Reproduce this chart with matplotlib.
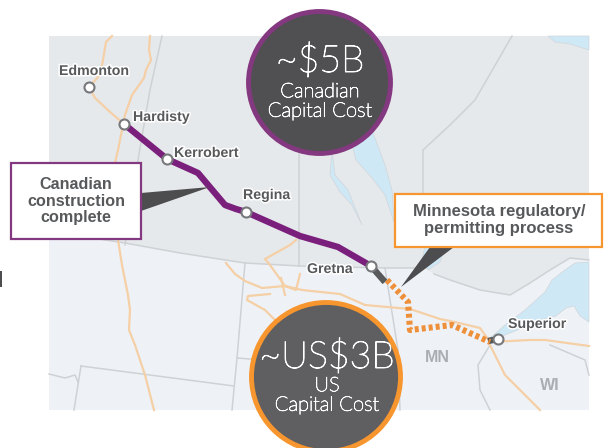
import matplotlib
matplotlib.use('Agg')
import matplotlib.pyplot as plt
import matplotlib.patheffects as pe
from matplotlib.patches import Circle, Polygon, Rectangle

# map shapes in pixels
canada = [(49, 36), (589, 36), (589, 260), (570, 258), (550, 270), (530, 283), (510, 295), (480, 290), (450, 280),
          (434, 274), (425, 268), (385, 268), (300, 266), (245, 263), (180, 253), (125, 243), (80, 236), (49, 232)]
lake_superior = [(489, 339), (505, 325), (525, 310), (545, 292), (552, 280), (565, 270), (575, 263), (589, 262),
                 (589, 322), (580, 316), (574, 306), (566, 308), (556, 316), (540, 320), (525, 327), (505, 335)]
lake_winnipeg = [(372, 130), (385, 165), (392, 190), (394, 222), (385, 195), (372, 178), (356, 160), (352, 145)]
lake_manitoba = [(332, 150), (335, 175), (348, 190), (358, 215), (362, 225), (352, 205), (340, 192), (330, 175)]
lake_woods = [(425, 247), (445, 247), (440, 262), (428, 270), (422, 260)]
hudson = [(548, 36), (589, 36), (589, 50), (570, 44), (555, 42)]

borders = [
    [(49, 232), (80, 236), (125, 243), (180, 253), (245, 263), (300, 266), (385, 268), (425, 268)],
    [(162, 36), (150, 90), (138, 160), (125, 245)],
    [(299, 150), (299, 266)],
    [(512, 36), (475, 100), (450, 125), (423, 150), (423, 194)],
    [(245, 263), (237, 358), (232, 410)],
    [(237, 358), (262, 360)],
    [(81, 366), (234, 386)],
    [(81, 366), (74, 410)],
    [(49, 374), (65, 378), (75, 375), (78, 382)],
    [(385, 268), (390, 300), (398, 350), (400, 410)],
    [(434, 274), (450, 280), (480, 290), (510, 295), (530, 283), (550, 270), (570, 258), (589, 260)],
    [(490, 345), (478, 365), (480, 390), (490, 410)],
    [(550, 345), (585, 360), (589, 375)],
]

pipes = [
    [(150, 36), (149, 50), (151, 60), (146, 70), (144, 78), (132, 95), (125, 115), (118, 150), (115, 163),
     (118, 240), (122, 265), (128, 295), (130, 310), (129, 330), (135, 345), (145, 375), (154, 410)],
    [(112, 36), (106, 42), (103, 60), (100, 75), (89, 87), (95, 98), (110, 112), (124, 124)],
    [(296, 240), (290, 245), (265, 259), (270, 265), (285, 286), (262, 288), (245, 281), (235, 274), (226, 263)],
    [(281, 278), (285, 295)],
    [(300, 274), (296, 290), (285, 286), (302, 290), (340, 294), (365, 305), (410, 309), (440, 319), (455, 322),
     (480, 328), (490, 342)],
    [(490, 342), (530, 340), (545, 340), (589, 346)],
    [(490, 345), (505, 375), (530, 400), (540, 410)],
    [(270, 294), (248, 296), (247, 300), (265, 310), (275, 320)],
]

# pipeline route
purple_route = [(124, 124), (167, 159), (198, 173), (225, 205), (236, 209), (246, 212), (300, 236), (338, 247), (371, 266)]
gray_route = [(371, 266), (385, 282)]
dotted_route = [(387, 280), (408, 302), (410, 330), (452, 325), (490, 342)]
gray_route2 = [(488, 341), (498, 339)]

cities = ['Edmonton', 'Hardisty', 'Kerrobert', 'Regina', 'Gretna', 'Superior']
city_x = [89, 124, 167, 246, 371, 498]
city_y = [87, 124, 159, 212, 266, 339]
label_x = [59, 133, 174, 243, 307, 508]
label_y = [71, 117, 153, 195, 269, 324]

purple = '#84387f'
orange = '#f7952e'
text_grey = '#58595b'

fig = plt.figure(figsize=(6.04, 4.48), dpi=100)
ax = fig.add_axes([0, 0, 1, 1])
ax.set_xlim(0, 604)
ax.set_ylim(448, 0)
ax.axis('off')

ax.add_patch(Rectangle((49, 36), 540, 374, fc='#eef2f6', ec='none', zorder=1))
ax.add_patch(Polygon(canada, fc='#e6e9ec', ec='none', zorder=1))
for shape in [lake_superior, lake_winnipeg, lake_manitoba, lake_woods, hudson]:
    ax.add_patch(Polygon(shape, fc='#cfe8f6', ec='#d0d6da', lw=0.5, zorder=2))
for b in borders:
    ax.plot(*zip(*b), color='#cfd2d5', lw=1.1, zorder=3)
for p in pipes:
    ax.plot(*zip(*p), color='#f5cfa6', lw=1.6, zorder=4)

ax.plot(*zip(*purple_route), color='#7b1f7d', lw=4.6, solid_capstyle='butt', zorder=5)
ax.plot(*zip(*gray_route), color='#58595b', lw=4.6, solid_capstyle='butt', zorder=5)
ax.plot(*zip(*gray_route2), color='#58595b', lw=4.6, solid_capstyle='butt', zorder=5)
ax.plot(*zip(*dotted_route), color='#ee8f3a', lw=4.4, dashes=(0.65, 0.5), zorder=5)

ax.scatter(city_x, city_y, s=52, fc='white', ec='#77787b', lw=1.5, zorder=6)

halo = [pe.withStroke(linewidth=2.2, foreground='white')]
for name, x, y in zip(cities, label_x, label_y):
    ax.text(x, y, name, family='Liberation Sans', weight='bold', fontsize=10.2, color=text_grey,
            ha='left', va='center', path_effects=halo, zorder=7)
ax.text(437, 358, 'MN', family='Liberation Sans', weight='bold', fontsize=11.5, color='#aaadb1',
        ha='center', va='center', zorder=4)
ax.text(550, 385, 'WI', family='Liberation Sans', weight='bold', fontsize=11.5, color='#aaadb1',
        ha='center', va='center', zorder=4)

# callouts
ax.add_patch(Polygon([(141, 193), (141, 211), (210, 187)], fc='#4d4d4f', ec='none', zorder=8))
ax.add_patch(Polygon([(454, 247), (430, 247), (401, 287)], fc='#4d4d4f', ec='none', zorder=8))
ax.add_patch(Rectangle((11, 163), 130, 76, fc='white', ec=purple, lw=1.6, zorder=9))
ax.add_patch(Rectangle((395, 194), 207, 53, fc='white', ec=orange, lw=1.6, zorder=9))
ax.text(76, 201, 'Canadian\nconstruction\ncomplete', family='Liberation Sans', weight='bold', fontsize=11.6,
        color=text_grey, ha='center', va='center', linespacing=1.1, zorder=10)
ax.text(499, 220, 'Minnesota regulatory/\npermitting process', family='Liberation Sans', weight='bold',
        fontsize=12, color=text_grey, ha='center', va='center', linespacing=1.15, zorder=10)

# cost bubbles, light face thickened a little so it stays readable
ax.add_patch(Circle((319.5, 82.5), 71, fc='#505052', ec=purple, lw=3.5, zorder=11))
ax.add_patch(Circle((326, 377), 74.5, fc='#5f5f61', ec=orange, lw=3.5, zorder=11))
big = [pe.withStroke(linewidth=0.7, foreground='white')]
small = [pe.withStroke(linewidth=0.5, foreground='white')]
ax.text(320, 61, '~$5B', family='Lato', weight='light', fontsize=27, color='white', ha='center', va='center',
        path_effects=big, zorder=12)
ax.text(320, 102, 'Canadian\nCapital Cost', family='Lato', weight='light', fontsize=14.5, color='white', ha='center',
        va='center', linespacing=1.1, path_effects=small, zorder=12)
ax.text(327, 357, '~US$3B', family='Lato', weight='light', fontsize=27, color='white', ha='center', va='center',
        path_effects=big, zorder=12)
ax.text(327, 396, 'US\nCapital Cost', family='Lato', weight='light', fontsize=14.5, color='white', ha='center',
        va='center', linespacing=1.1, path_effects=small, zorder=12)

# stray mark on the left edge
ax.add_patch(Rectangle((0, 271), 2, 16, fc='#4d4d4f', ec='none', zorder=1))

fig.savefig('out.png', dpi=100)
